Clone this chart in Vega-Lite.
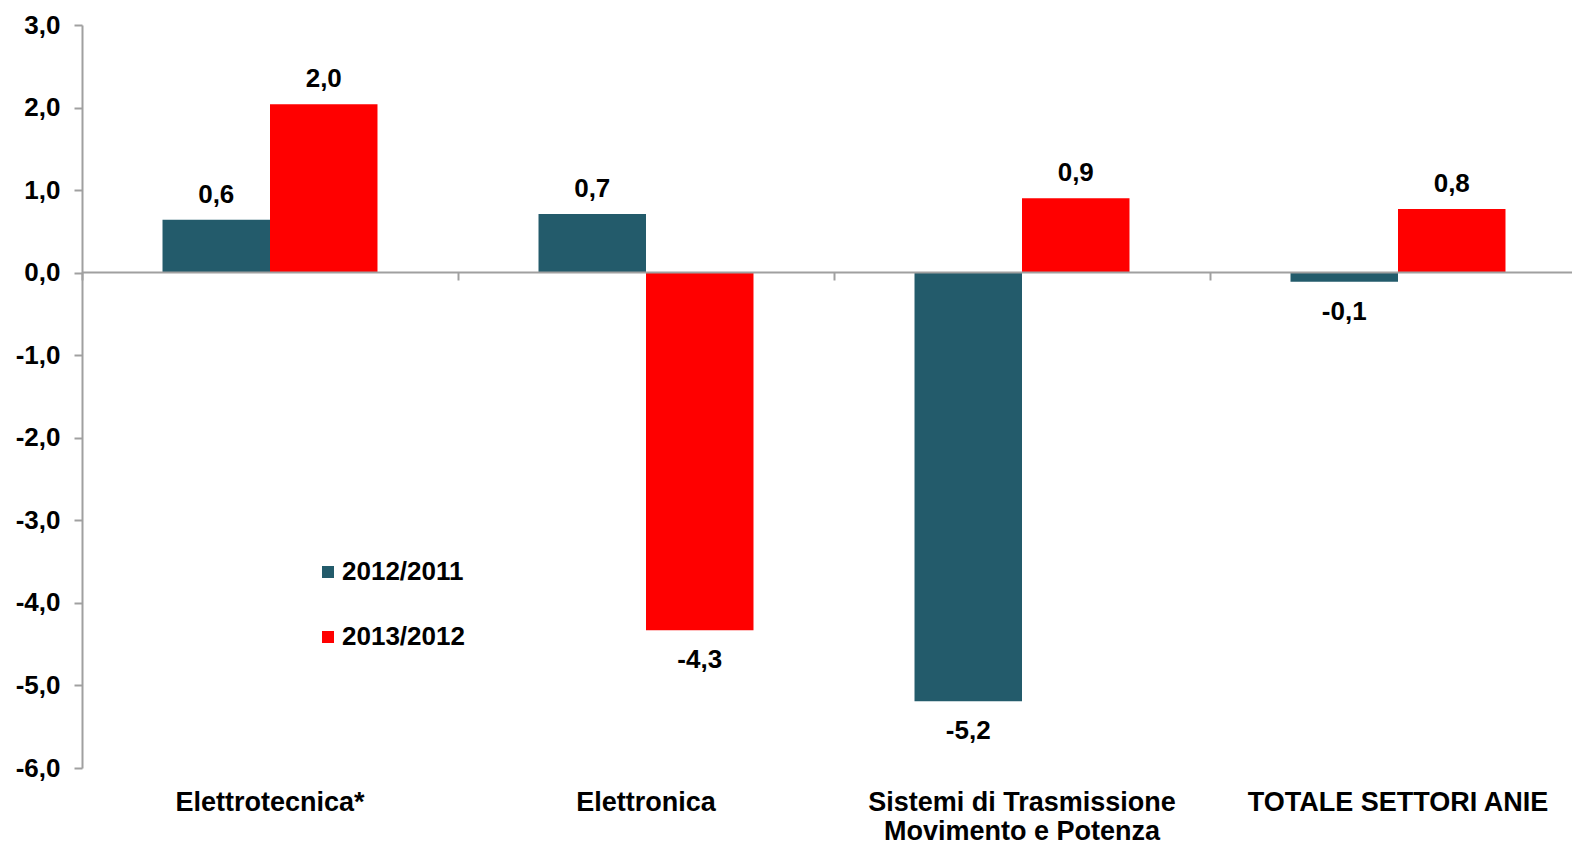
{
  "$schema": "https://vega.github.io/schema/vega-lite/v6.json",
  "autosize": {"type": "none"},
  "padding": {"left": 82, "top": 25, "right": 0, "bottom": 77},
  "width": 1490,
  "height": 743,
  "background": "white",
  "config": {
    "font": "Liberation Sans",
    "view": {"stroke": null},
    "locale": {"number": {"decimal": ",", "thousands": ".", "grouping": [3], "currency": ["", " €"], "minus": "-"}}
  },
  "data": {
    "values": [
      {"settore": "Elettrotecnica*", "periodo": "2012/2011", "valore": 0.64},
      {"settore": "Elettrotecnica*", "periodo": "2013/2012", "valore": 2.04},
      {"settore": "Elettronica", "periodo": "2012/2011", "valore": 0.71},
      {"settore": "Elettronica", "periodo": "2013/2012", "valore": -4.33},
      {"settore": "Sistemi di Trasmissione Movimento e Potenza", "periodo": "2012/2011", "valore": -5.19},
      {"settore": "Sistemi di Trasmissione Movimento e Potenza", "periodo": "2013/2012", "valore": 0.9},
      {"settore": "TOTALE SETTORI ANIE", "periodo": "2012/2011", "valore": -0.11},
      {"settore": "TOTALE SETTORI ANIE", "periodo": "2013/2012", "valore": 0.77}
    ]
  },
  "encoding": {
    "x": {
      "field": "settore", "type": "nominal", "sort": null,
      "scale": {"range": [0, 1504], "paddingInner": 0, "paddingOuter": 0}
    },
    "xOffset": {
      "field": "periodo", "type": "nominal",
      "scale": {"paddingInner": 0, "paddingOuter": 0.749}
    },
    "y": {
      "field": "valore", "type": "quantitative",
      "scale": {"domain": [-6, 3], "nice": false, "zero": false},
      "axis": {
        "title": null, "values": [-6, -5, -4, -3, -2, -1, 0, 1, 2, 3], "format": ".1f",
        "grid": false, "domainColor": "#a0a0a0", "domainWidth": 2, "tickColor": "#a0a0a0", "tickWidth": 2,
        "tickSize": 8, "labelPadding": 14, "labelFontSize": 26, "labelFontWeight": "bold", "labelColor": "#000000",
        "labelFont": "Liberation Sans"
      }
    }
  },
  "layer": [
    {
      "mark": {"type": "bar"},
      "encoding": {
        "x": {
          "field": "settore", "type": "nominal", "sort": null,
          "axis": {
            "title": null, "orient": "bottom", "domain": false, "ticks": false, "labelAngle": 0,
            "labelPadding": 21, "labelFontSize": 27, "labelFontWeight": "bold", "labelColor": "#000000",
            "labelFont": "Liberation Sans", "labelLineHeight": 29, "labelLimit": 0,
            "labelExpr": "datum.label == 'Sistemi di Trasmissione Movimento e Potenza' ? ['Sistemi di Trasmissione', 'Movimento e Potenza'] : datum.label"
          }
        },
        "color": {
          "field": "periodo", "type": "nominal",
          "scale": {"domain": ["2012/2011", "2013/2012"], "range": ["#235B6B", "#FF0000"]},
          "legend": {
            "title": null, "orient": "none", "legendX": 233, "legendY": 534,
            "symbolType": "square", "symbolSize": 144, "symbolStrokeWidth": 0, "symbolOpacity": 1,
            "labelFontSize": 26, "labelFontWeight": "bold", "labelColor": "#000000", "labelFont": "Liberation Sans",
            "labelOffset": 1, "rowPadding": 39, "padding": 0
          }
        }
      }
    },
    {
      "mark": {"type": "point", "opacity": 0},
      "encoding": {
        "x": {
          "field": "settore", "type": "nominal", "sort": null,
          "axis": {
            "title": null, "orient": "bottom", "offset": -496, "labels": false, "domain": true, "ticks": true,
            "bandPosition": 0, "tickSize": 8, "tickColor": "#a0a0a0", "tickWidth": 2,
            "domainColor": "#a0a0a0", "domainWidth": 2, "zindex": 1
          }
        }
      }
    },
    {
      "transform": [{"filter": "datum.valore >= 0"}],
      "mark": {"type": "text", "baseline": "alphabetic", "dy": -17, "fontSize": 26, "fontWeight": "bold", "font": "Liberation Sans", "color": "#000000"},
      "encoding": {
        "x": {"field": "settore", "type": "nominal", "sort": null, "axis": null},
        "text": {"field": "valore", "type": "quantitative", "format": ".1f"}
      }
    },
    {
      "transform": [{"filter": "datum.valore < 0"}],
      "mark": {"type": "text", "baseline": "alphabetic", "dy": 38, "fontSize": 26, "fontWeight": "bold", "font": "Liberation Sans", "color": "#000000"},
      "encoding": {
        "x": {"field": "settore", "type": "nominal", "sort": null, "axis": null},
        "text": {"field": "valore", "type": "quantitative", "format": ".1f"}
      }
    }
  ],
  "resolve": {"axis": {"x": "independent"}}
}
